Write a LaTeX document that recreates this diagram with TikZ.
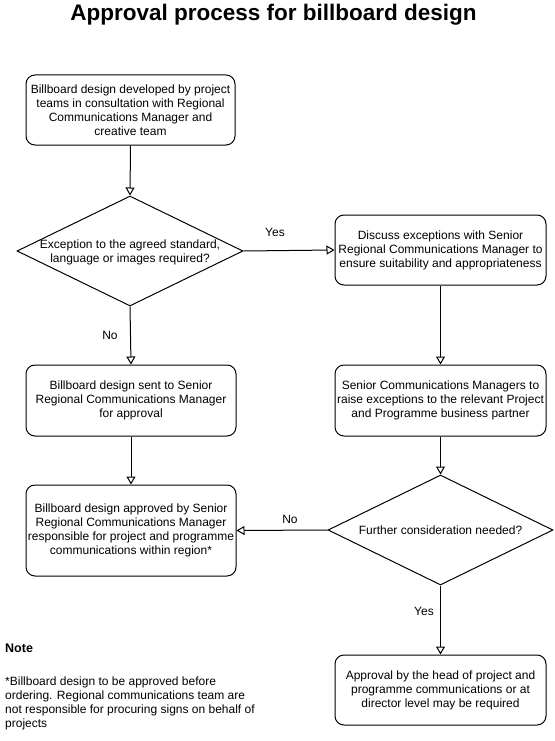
\documentclass[tikz,border=0pt]{standalone}
\usepackage{fontspec}
\setmainfont{Liberation Sans}
\usetikzlibrary{shapes.geometric,arrows.meta}
\begin{document}
\begin{tikzpicture}[x=1pt,y=-1pt,
  every node/.style={font=\fontsize{12}{14}\selectfont, inner sep=0pt},
  box/.style={draw, rounded corners=9pt, line width=1pt, align=center, anchor=center},
  dia/.style={draw, diamond, line width=1pt, inner sep=0pt, aspect=2},
  lbl/.style={align=center, anchor=center},
  flow/.style={line width=1pt, -{Triangle[open, length=8pt, width=9pt]}},
  elab/.style={anchor=center}
]
\useasboundingbox (0,0) rectangle (554,741);
\node[font=\fontsize{22.5}{26}\selectfont\bfseries] (title) at (273.5,15) {Approval process for billboard design};

\node[box, minimum width=209pt, minimum height=70pt] (b1) at (130.5,110)
  {Billboard design developed by project\\teams in consultation with Regional\\Communications Manager and\\creative team};

\node[dia, minimum width=226pt, minimum height=110pt] (d1) at (130,251) {};
\node[lbl] (d1t) at (130,252) {Exception to the agreed standard,\\language or images required?};

\node[box, minimum width=211pt, minimum height=70pt] (disc) at (440.5,250)
  {Discuss exceptions with Senior\\Regional Communications Manager to\\ensure suitability and appropriateness};

\node[box, minimum width=210pt, minimum height=71pt] (sent) at (131,400.5)
  {Billboard design sent to Senior\\Regional Communications Manager\\for approval};

\node[box, minimum width=211pt, minimum height=71pt] (senior) at (440.5,400.5)
  {Senior Communications Managers to\\raise exceptions to the relevant Project\\and Programme business partner};

\node[box, minimum width=210pt, minimum height=91pt] (appr) at (131,530.5)
  {Billboard design approved by Senior\\Regional Communications Manager\\responsible for project and programme\\communications within region*};

\node[dia, minimum width=225pt, minimum height=110pt] (d2) at (440.5,530) {};
\node[lbl] (d2t) at (440.5,530) {Further consideration needed?};

\node[box, minimum width=211pt, minimum height=70pt] (fin) at (440.5,690)
  {Approval by the head of project and\\programme communications or at\\director level may be required};

\draw[flow] (b1.south) -- (d1.north);
\draw[flow] (d1.east) -- (disc.west);
\draw[flow] (d1.south) -- (sent.north);
\draw[flow] (sent.south) -- (appr.north);
\draw[flow] (disc.south) -- (senior.north);
\draw[flow] (senior.south) -- (d2.north);
\draw[flow] (d2.west) -- (appr.east);
\draw[flow] (d2.south) -- (fin.north);

\node[elab] (yes1) at (275,232) {Yes};
\node[elab] (no1) at (110,335) {No};
\node[elab] (no2) at (290,519) {No};
\node[elab] (yes2) at (424,611) {Yes};

\node[anchor=west, font=\fontsize{12.5}{14}\selectfont\bfseries] (note) at (5,648) {Note};
\node[anchor=north west, align=left] (notetext) at (5,677)
  {*Billboard design to be approved before\\ordering. Regional communications team are\\not responsible for procuring signs on behalf of\\projects};
\end{tikzpicture}
\end{document}
